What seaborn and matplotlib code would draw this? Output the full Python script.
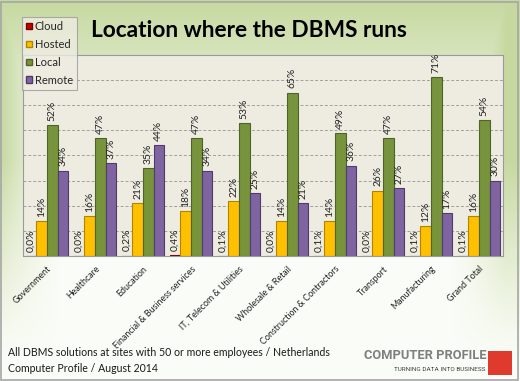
import numpy as np
import pandas as pd
import matplotlib
matplotlib.use("Agg")
import matplotlib.pyplot as plt
import seaborn as sns
from matplotlib.patches import Rectangle, Patch

categories = ["Government", "Healthcare", "Education", "Financial & Business services",
              "IT, Telecom & Utilities", "Wholesale & Retail", "Construction & Contractors",
              "Transport", "Manufacturing", "Grand Total"]
cloud = [0.0, 0.0, 0.2, 0.4, 0.1, 0.0, 0.1, 0.0, 0.1, 0.1]
hosted = [14, 16, 21, 18, 22, 14, 14, 26, 12, 16]
local = [52, 47, 35, 47, 53, 65, 49, 47, 71, 54]
remote = [34, 37, 44, 34, 25, 21, 36, 27, 17, 30]
series = ["Cloud", "Hosted", "Local", "Remote"]
colors = ["#c00000", "#ffc000", "#77933c", "#8064a2"]
edge_colors = ["#7a0000", "#b08400", "#4f6428", "#4f3c6a"]

sns.set_theme(style="white")
plt.rcParams["font.family"] = ["Lato", "DejaVu Sans"]

rows = []
for s, vals in zip(series, [cloud, hosted, local, remote]):
    for c, v in zip(categories, vals):
        rows.append({"Category": c, "Series": s, "Value": v})
df = pd.DataFrame(rows)

fig = plt.figure(figsize=(5.2, 3.81), dpi=100)

# gradient background
bg = fig.add_axes([0, 0, 1, 1], zorder=-10)
h, w = 381, 520
yy, xx = np.mgrid[0:h, 0:w]
fy = np.clip(1 - yy / 200.0, 0, 1)
fx = np.clip(np.maximum(1 - xx / 60.0, (xx - 450) / 55.0), 0, 1) * np.clip(1 - (yy - 160) / 200.0, 0, 1)
f = np.maximum(fy, fx) ** 1.2
green = np.array([0.78, 0.85, 0.63])
white = np.array([0.98, 0.99, 0.97])
img = white[None, None, :] * (1 - f[..., None]) + green[None, None, :] * f[..., None]
bg.imshow(img, aspect="auto", extent=[0, 1, 0, 1])
bg.add_patch(Rectangle((0.002, 0.003), 0.994, 0.992, fill=False, edgecolor="#a6a6a6", lw=1.2))
bg.set_xlim(0, 1); bg.set_ylim(0, 1)
bg.axis("off")

ax = fig.add_axes([0.0442, 0.328, 0.9231, 0.528])
ax.set_facecolor("#eeece1")
sns.barplot(data=df, x="Category", y="Value", hue="Series", palette=colors,
            width=0.88, ax=ax, legend=False, saturation=1, linewidth=0.8)

for cont, ec, s in zip(ax.containers, edge_colors, series):
    for p in cont:
        p.set_edgecolor(ec)
    if s == "Cloud":
        labels = [f"{v:.1f}%".replace(".", ",") for v in cloud]
    else:
        labels = [f"{int(round(p.get_height()))}%" for p in cont]
    ax.bar_label(cont, labels=labels, rotation=90, padding=3, fontsize=7.4, color="#222222")

ax.set_ylim(0, 80)
ax.set_xlim(-0.5, len(categories) - 0.5)
ax.set_yticks(np.arange(0, 81, 10))
ax.set_yticklabels([])
ax.tick_params(axis="y", length=0)
ax.yaxis.grid(True, linestyle=(0, (3, 2)), color="#a0a0a0", linewidth=0.7)
ax.set_axisbelow(True)
ax.set_xlabel(""); ax.set_ylabel("")
ax.set_xticks(range(len(categories)))
ax.set_xticklabels(categories, rotation=45, ha="right", rotation_mode="anchor", fontsize=6.4,
                   color="#222222")
ax.tick_params(axis="x", length=0, pad=6)
ax.set_xticks(np.arange(-0.5, len(categories), 1), minor=True)
ax.tick_params(axis="x", which="minor", length=4, color="#7f7f7f", width=0.8)
for sp in ax.spines.values():
    sp.set_color("#9a9a9a"); sp.set_linewidth(0.8)

# legend
handles = [Patch(facecolor=c, edgecolor=e, label=s) for c, e, s in zip(colors, edge_colors, series)]
leg = fig.legend(handles=handles, loc="upper left", bbox_to_anchor=(0.042, 0.955),
                 frameon=True, fontsize=8, handlelength=0.55, handleheight=0.55,
                 handletextpad=0.25, labelspacing=0.62, borderpad=0.35, borderaxespad=0,
                 fancybox=False)
leg.get_frame().set_facecolor("#eeece1")
leg.get_frame().set_edgecolor("#9a9a9a")
leg.get_frame().set_linewidth(0.8)
leg.set_zorder(20)

fig.text(0.479, 0.92, "Location where the DBMS runs", ha="center", va="center",
         fontsize=16.3, fontweight="bold", color="#000000")

fig.text(0.015, 0.074, "All DBMS solutions at sites with 50 or more employees / Netherlands",
         fontsize=7.6, color="#1a1a1a", va="center")
fig.text(0.015, 0.033, "Computer Profile / August 2014", fontsize=7.6, color="#1a1a1a", va="center")

fig.text(0.936, 0.068, "COMPUTER PROFILE", ha="right", va="center", fontsize=9.3,
         color="#7f7f7f", fontweight="bold", fontstretch="condensed",
         family=["Liberation Sans Narrow", "Roboto", "DejaVu Sans"])
fig.text(0.934, 0.030, "TURNING DATA INTO BUSINESS", ha="right", va="center", fontsize=4.6,
         color="#404040", family=["Liberation Sans Narrow", "Roboto", "DejaVu Sans"])
bg.add_patch(Rectangle((0.938, 0.016), 0.047, 0.062, facecolor="#e03a2f", edgecolor="none"))

fig.savefig("out.png", dpi=100)
